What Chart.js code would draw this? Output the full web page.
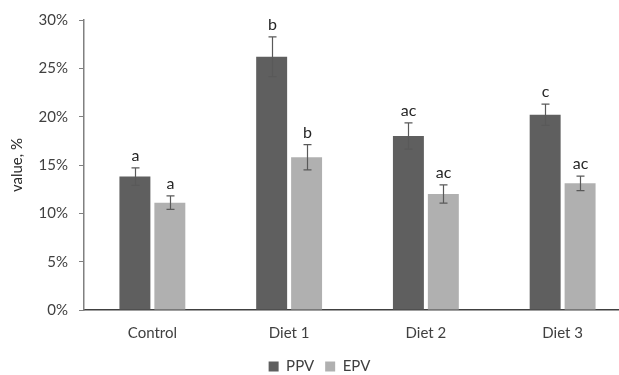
<!DOCTYPE html>
<html>
<head>
<meta charset="utf-8">
<script src="https://cdn.jsdelivr.net/npm/chart.js@4"></script>
<style>
    html, body { margin: 0; padding: 0; background: #fff; overflow: hidden; }
</style>
</head>
<body>
<canvas id="grafico" width="650" height="375"></canvas>
<script>
// ================= DATI =================

const categorie = ["Control", "Diet 1", "Diet 2", "Diet 3"];

const valoriPPV = [13.8, 26.2, 18.0, 20.2];
const valoriEPV = [11.1, 15.8, 12.0, 13.1];

const erroriPPV = [0.9, 2.05, 1.35, 1.1];
const erroriEPV = [0.7, 1.3, 0.95, 0.75];

const letterePPV = ["a", "b", "ac", "c"];
const lettereEPV = ["a", "b", "ac", "ac"];

const tickY = [0, 5, 10, 15, 20, 25, 30];

const FONT = "Lato, 'Open Sans', sans-serif";

// ================= ERROR BAR + LETTERE =================

const pluginErrori = {

    id: "erroriLettere",

    afterDatasetsDraw(chart) {

        const ctx = chart.ctx;
        const y = chart.scales.y;

        chart.data.datasets.forEach((ds, i) => {

            const meta = chart.getDatasetMeta(i);

            meta.data.forEach((bar, j) => {

                const v = ds.data[j];
                const e = ds.errori[j];

                const top = y.getPixelForValue(v + e);
                const bot = y.getPixelForValue(v - e);
                const x = Math.round(bar.x) + 0.5;

                ctx.save();
                ctx.strokeStyle = "#595959";
                ctx.lineWidth = 1.2;
                ctx.beginPath();
                ctx.moveTo(x, top);
                ctx.lineTo(x, bot);
                ctx.moveTo(x - 4, top);
                ctx.lineTo(x + 4, top);
                ctx.moveTo(x - 4, bot);
                ctx.lineTo(x + 4, bot);
                ctx.stroke();

                ctx.fillStyle = "#262626";
                ctx.font = "16px " + FONT;
                ctx.textAlign = "center";
                ctx.textBaseline = "alphabetic";
                ctx.fillText(ds.lettere[j], x, top - 7);
                ctx.restore();

            });

        });

    }

};

// ================= GRAFICO =================

new Chart(document.getElementById("grafico"), {

    type: "bar",

    data: {

        labels: categorie,

        datasets: [
            {
                label: "PPV",
                data: valoriPPV,
                errori: erroriPPV,
                lettere: letterePPV,
                backgroundColor: "#5f5f5f"
            },
            {
                label: "EPV",
                data: valoriEPV,
                errori: erroriEPV,
                lettere: lettereEPV,
                backgroundColor: "#b0b0b0"
            }
        ]

    },

    options: {

        responsive: false,
        animation: false,

        categoryPercentage: 0.511,
        barPercentage: 0.886,

        layout: {
            padding: { left: 8, right: 19, top: 9, bottom: -9 }
        },

        plugins: {

            legend: {
                position: "bottom",
                labels: {
                    color: "#404040",
                    font: { family: FONT, size: 15 },
                    boxWidth: 10,
                    boxHeight: 10,
                    padding: 11
                }
            },

            tooltip: { enabled: false }

        },

        scales: {

            x: {
                grid: { display: false },
                border: { color: "#404040", width: 1.5 },
                ticks: {
                    color: "#404040",
                    font: { family: FONT, size: 15 },
                    padding: 6
                }
            },

            y: {
                min: 0,
                max: 30,
                afterBuildTicks: scale => {
                    scale.ticks = tickY.map(v => ({ value: v }));
                },
                afterFit: scale => {
                    scale.width = 76;
                },
                grid: {
                    drawOnChartArea: false,
                    tickLength: 5,
                    color: "#808080"
                },
                border: { color: "#808080", width: 1.5 },
                ticks: {
                    color: "#404040",
                    font: { family: FONT, size: 15 },
                    padding: 11,
                    callback: v => v + "%"
                },
                title: {
                    display: true,
                    text: "value, %",
                    color: "#262626",
                    font: { family: FONT, size: 15 },
                    padding: { top: 0, bottom: 4 }
                }
            }

        }

    },

    plugins: [pluginErrori]

});
</script>
</body>
</html>
